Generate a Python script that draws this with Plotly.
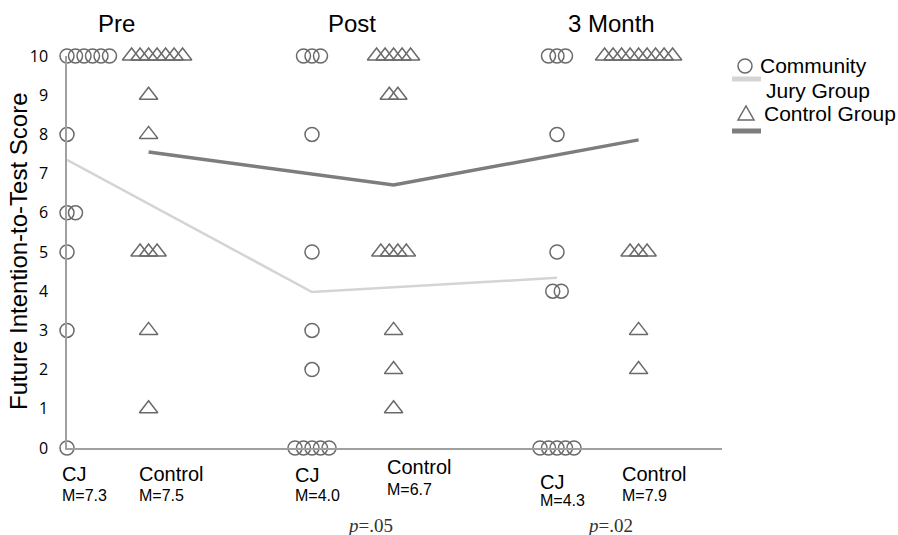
import plotly.graph_objects as go

# ---------------- data ----------------
times = ["Pre", "Post", "3 Month"]
groups = ["CJ", "Control"]
y_ticks = list(range(0, 11))

# number of participants at each score (score: count)
cj_counts = [
    {10: 6, 8: 1, 6: 2, 5: 1, 3: 1, 0: 1},      # Pre
    {10: 3, 8: 1, 5: 1, 3: 1, 2: 1, 0: 5},      # Post
    {10: 3, 8: 1, 5: 1, 4: 2, 0: 5},            # 3 Month
]
ctrl_counts = [
    {10: 7, 9: 1, 8: 1, 5: 3, 3: 1, 1: 1},      # Pre
    {10: 5, 9: 2, 5: 4, 3: 1, 2: 1, 1: 1},      # Post
    {10: 9, 5: 3, 3: 1, 2: 1},                  # 3 Month
]
cj_means = [7.35, 3.98, 4.34]
ctrl_means = [7.55, 6.71, 7.86]
cj_mean_labels = ["M=7.3", "M=4.0", "M=4.3"]
ctrl_mean_labels = ["M=7.5", "M=6.7", "M=7.9"]
p_labels = ["", ".05", ".02"]

# ---------------- layout helpers ----------------
W, H = 898, 535
L, R, T, B = 67, 176, 56, 87
PW, PH = W - L - R, H - T - B
UNIT = 245.0                     # pixels per time step
CTRL_OFF = 0.333                 # control column offset
STEP = 8.5 / UNIT                # horizontal stacking step
XMAX = PW / UNIT

def px(xp):
    return (xp - L) / PW

def py(yp):
    return (H - B - yp) / PH

def dx2paper(xd):
    return xd / XMAX

def stack(counts, base, align):
    xs, ys = [], []
    for score, n in counts.items():
        for i in range(n):
            if align == "left":
                off = i * STEP
            else:
                off = (i - (n - 1) / 2) * STEP
                if align == "shift" and n > 3:
                    off += STEP
            xs.append(base + off)
            ys.append(score)
    return xs, ys

fig = go.Figure()

t_pos = [0, 1, 2]
fig.add_trace(go.Scatter(x=t_pos, y=cj_means, mode="lines",
                         line=dict(color="#d4d4d4", width=2.5),
                         showlegend=False, hoverinfo="skip"))
fig.add_trace(go.Scatter(x=[t + CTRL_OFF for t in t_pos], y=ctrl_means, mode="lines",
                         line=dict(color="#7d7d7d", width=3.5),
                         showlegend=False, hoverinfo="skip"))

mk_col = "#6a6a6a"
for ti, t in enumerate(t_pos):
    xs, ys = stack(cj_counts[ti], t, "left" if ti == 0 else "center")
    fig.add_trace(go.Scatter(x=xs, y=ys, mode="markers", cliponaxis=False,
                             marker=dict(symbol="circle-open", size=14,
                                         color=mk_col, line=dict(width=1.5, color=mk_col)),
                             showlegend=False))
    xs, ys = stack(ctrl_counts[ti], t + CTRL_OFF, "shift" if ti == 0 else "center")
    fig.add_trace(go.Scatter(x=xs, y=ys, mode="markers", cliponaxis=False,
                             marker=dict(symbol="triangle-up-open", size=16,
                                         color=mk_col, line=dict(width=1.5, color=mk_col)),
                             showlegend=False))

SANS = "Liberation Sans, Arial, sans-serif"
annos = []
# column headers
head_off = [0.204, 0.163, 0.224]
for ti, name in enumerate(times):
    annos.append(dict(x=dx2paper(t_pos[ti] + head_off[ti]), y=py(23), xref="paper", yref="paper",
                      text=name, showarrow=False, font=dict(family=SANS, size=24, color="black"),
                      xanchor="center", yanchor="middle"))
# group labels under axis
cj_lab = [(-0.029, 474, 495), (-0.078, 475, 496), (-0.078, 482, 501)]
ct_lab = [(-0.047, 474, 495), (-0.035, 467, 489), (-0.076, 474, 496)]
for ti in range(3):
    dx, y1, y2 = cj_lab[ti]
    xx = dx2paper(t_pos[ti] + dx)
    annos.append(dict(x=xx, y=py(y1), xref="paper", yref="paper", text=groups[0],
                      showarrow=False, xanchor="left", yanchor="middle",
                      font=dict(family=SANS, size=20, color="black")))
    annos.append(dict(x=xx, y=py(y2), xref="paper", yref="paper", text=cj_mean_labels[ti],
                      showarrow=False, xanchor="left", yanchor="middle",
                      font=dict(family=SANS, size=16, color="black")))
    dx, y1, y2 = ct_lab[ti]
    xx = dx2paper(t_pos[ti] + CTRL_OFF + dx)
    annos.append(dict(x=xx, y=py(y1), xref="paper", yref="paper", text=groups[1],
                      showarrow=False, xanchor="left", yanchor="middle",
                      font=dict(family=SANS, size=20, color="black")))
    annos.append(dict(x=xx, y=py(y2), xref="paper", yref="paper", text=ctrl_mean_labels[ti],
                      showarrow=False, xanchor="left", yanchor="middle",
                      font=dict(family=SANS, size=16, color="black")))
p_off = [0, 0.135, 0.114]
for ti in range(3):
    if p_labels[ti]:
        annos.append(dict(x=dx2paper(t_pos[ti] + p_off[ti]), y=py(525), xref="paper", yref="paper",
                          text="<i>p</i>=" + p_labels[ti], showarrow=False,
                          xanchor="left", yanchor="middle",
                          font=dict(family="Liberation Serif, Times New Roman, serif", size=19, color="#333")))
# y title
annos.append(dict(x=px(18), y=0.5, xref="paper", yref="paper", text="Future Intention-to-Test Score",
                  textangle=-90, showarrow=False, xanchor="center", yanchor="middle",
                  font=dict(family=SANS, size=24, color="black")))
# legend texts
for txt, xl, yc in [("Community", 758, 66), ("Jury Group", 764, 90), ("Control Group", 762, 113)]:
    annos.append(dict(x=px(xl), y=py(yc), xref="paper", yref="paper", text=txt, showarrow=False,
                      xanchor="left", yanchor="middle", font=dict(family=SANS, size=21, color="black")))

shapes = [
    dict(type="circle", xref="paper", yref="paper", x0=px(738), x1=px(752), y0=py(73), y1=py(59),
         line=dict(color=mk_col, width=1.5)),
    dict(type="line", xref="paper", yref="paper", x0=px(732), x1=px(761), y0=py(79), y1=py(79),
         line=dict(color="#d4d4d4", width=5)),
    dict(type="path", xref="paper", yref="paper",
         path=f"M {px(738)} {py(120)} L {px(754)} {py(120)} L {px(746)} {py(106)} Z",
         line=dict(color=mk_col, width=1.5)),
    dict(type="line", xref="paper", yref="paper", x0=px(732), x1=px(761), y0=py(131), y1=py(131),
         line=dict(color="#7d7d7d", width=5)),
]

fig.update_layout(
    width=W, height=H, margin=dict(l=L, r=R, t=T, b=B, autoexpand=False),
    paper_bgcolor="white", plot_bgcolor="white",
    annotations=annos, shapes=shapes, showlegend=False,
    xaxis=dict(range=[0, XMAX], showgrid=False, zeroline=False, showticklabels=False,
               showline=True, linecolor="#a0a0a0", linewidth=1.5, ticks=""),
    yaxis=dict(range=[0, 10], showgrid=False, zeroline=False, tickvals=y_ticks,
               showline=True, linecolor="#a0a0a0", linewidth=1.5, ticks="",
               ticklabelstandoff=14,
               tickfont=dict(family="Open Sans, sans-serif", size=16, color="black")),
)

fig.write_html("out.html", config={"displayModeBar": False},
               post_script="document.body.style.margin='0px';document.body.style.overflow='hidden';")
